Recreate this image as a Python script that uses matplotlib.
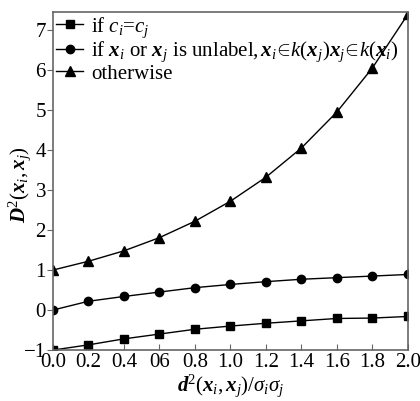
import matplotlib
matplotlib.use('Agg')
import matplotlib.pyplot as plt

plt.rcParams['font.family'] = ['Liberation Serif', 'DejaVu Serif']
plt.rcParams['mathtext.fontset'] = 'custom'
plt.rcParams['mathtext.rm'] = 'Liberation Serif'
plt.rcParams['mathtext.it'] = 'Liberation Serif:italic'
plt.rcParams['mathtext.bf'] = 'Liberation Serif:bold'
plt.rcParams['mathtext.bfit'] = 'Liberation Serif:bold:italic'

# values
x = [0.0, 0.2, 0.4, 0.6, 0.8, 1.0, 1.2, 1.4, 1.6, 1.8, 2.0]
same_class = [-1.0, -0.87, -0.72, -0.60, -0.48, -0.40, -0.33, -0.27, -0.21, -0.20, -0.16]
unlabeled = [0.0, 0.22, 0.34, 0.45, 0.56, 0.64, 0.71, 0.77, 0.81, 0.85, 0.89]
otherwise = [1.0, 1.22, 1.48, 1.81, 2.22, 2.72, 3.32, 4.05, 4.95, 6.05, 7.39]
xtick_labels = ['0.0', '0.2', '0.4', '06', '0.8', '1.0', '1.2', '1.4', '1.6', '1.8', '2.0']
yticks = [-1, 0, 1, 2, 3, 4, 5, 6, 7]

labels = [r'if $c_i$=$c_j$',
          r'if $\mathbfit{x}_i$ or $\mathbfit{x}_j$ is unlabel,'
          r'$\,\mathbfit{x}_i\!\in\!k(\mathbfit{x}_j)\mathbfit{x}_j\!\in\!k(\mathbfit{x}_i)$',
          'otherwise']

fig = plt.figure(figsize=(4.2, 4.01), dpi=100)
ax = fig.add_axes([0.126, 0.127, 0.845, 0.843])

ax.plot(x, same_class, 'k-', marker='s', markersize=5.5, lw=1.0, label=labels[0])
ax.plot(x, unlabeled, 'k-', marker='o', markersize=6, lw=1.0, label=labels[1])
ax.plot(x, otherwise, 'k-', marker='^', markersize=6.5, lw=1.0, label=labels[2])

ax.set_xlim(0, 2.0)
ax.set_ylim(-1, 7.45)
ax.set_xticks(x)
ax.set_xticklabels(xtick_labels)
ax.set_yticks(yticks)
ax.set_yticklabels(['\u22121'] + [str(v) for v in yticks[1:]])
ax.tick_params(axis='x', direction='in', length=4, labelsize=15, pad=2, color='0.4')
ax.tick_params(axis='y', direction='out', length=4, labelsize=15, pad=1, color='0.4')
for sp in ax.spines.values():
    sp.set_color('0.4')
    sp.set_linewidth(1.2)

ax.set_xlabel(r'$\mathbfit{d}^2(\mathbfit{x}_i,\mathbfit{x}_j)/\sigma_i\sigma_j$', fontsize=15, labelpad=0)
ax.set_ylabel(r'$\mathbfit{D}^2(\mathbfit{x}_i,\mathbfit{x}_j)$', fontsize=15)
ax.yaxis.set_label_coords(-0.056, 0.488)

ax.legend(loc='upper left', frameon=False, fontsize=15, handlelength=1.3,
          handletextpad=0.4, labelspacing=0.0, borderaxespad=0.0, borderpad=0.15,
          bbox_to_anchor=(0.0, 1.0))

fig.savefig('out.png', dpi=100)
